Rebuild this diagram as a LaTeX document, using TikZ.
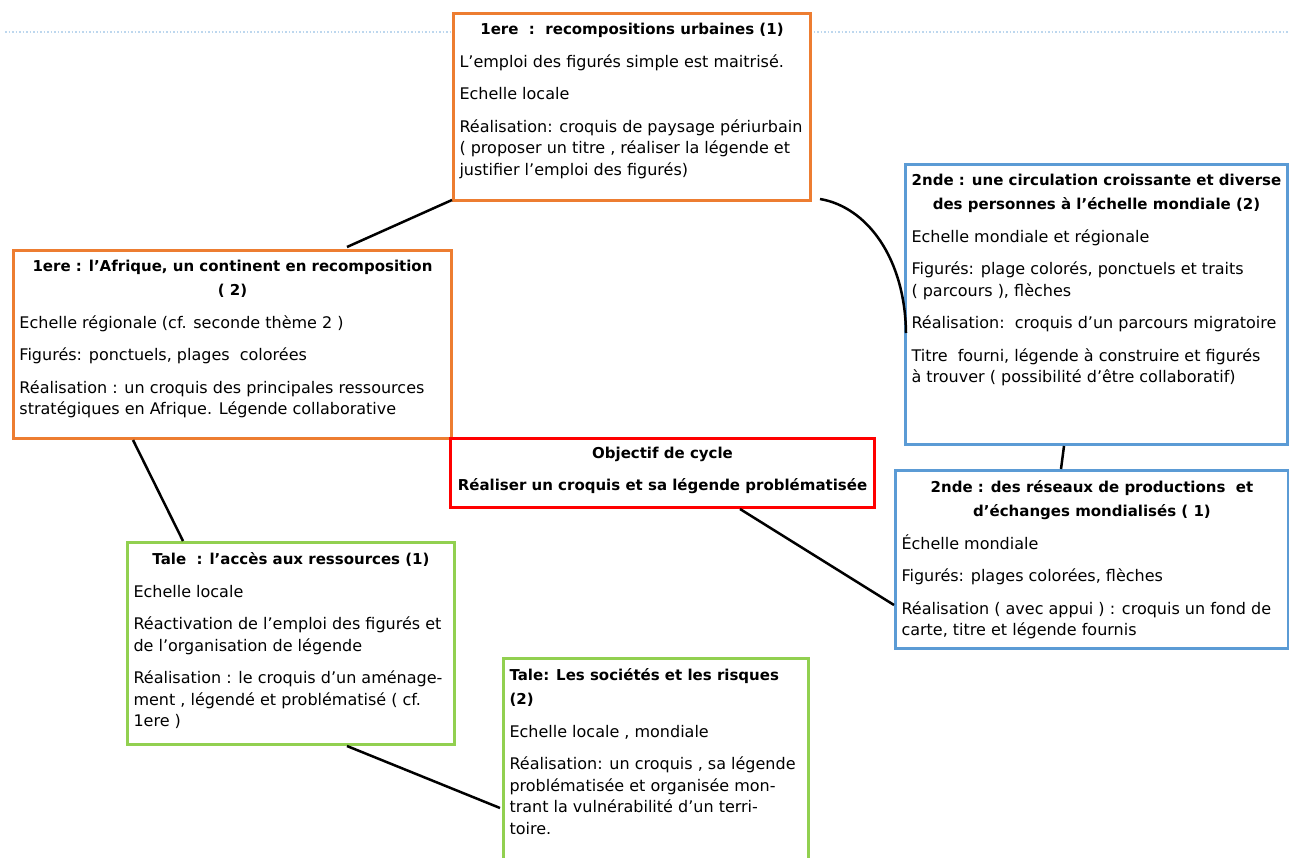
\documentclass[tikz,border=0pt]{standalone}
\usepackage{fontspec}
\setmainfont{DejaVu Sans}
\usetikzlibrary{calc}
\definecolor{orA}{HTML}{ED7D31}
\definecolor{blA}{HTML}{5B9BD5}
\definecolor{grA}{HTML}{92D050}
\definecolor{rdA}{HTML}{FF0000}
\definecolor{dotA}{HTML}{BDD7EE}
\newcommand\bxc[3]{\parbox[c][#2][t]{#1}{\raggedright\fontsize{16}{21.5}\selectfont\setlength{\parskip}{11pt}\vspace*{4pt}#3}}
\newcommand\ttl[1]{{\setlength{\parskip}{0pt}\centering\bfseries\fontsize{15}{24}\selectfont #1\par}}
\newcommand\ttlL[1]{{\setlength{\parskip}{0pt}\raggedright\bfseries\fontsize{15}{24}\selectfont #1\par}}
\tikzset{
  bx/.style={draw=#1, line width=3pt, fill=white, inner sep=6pt, anchor=north west},
  link/.style={draw=black, line width=2.5pt},
  dotline/.style={draw=dotA, line width=1.5pt, dotted}
}
\begin{document}
\begin{tikzpicture}[x=1pt,y=-1pt]
\useasboundingbox (0,0) rectangle (1289,858);
\coordinate (dl) at (5,32);
\coordinate (dr) at (1289,32);
\draw[dotline] (dl) -- (dr);

% boxes
\node[bx=orA] (A) at (452,12) {\bxc{345pt}{175pt}{%
\ttl{1ere\ \ :\ \ recompositions urbaines (1)}
L’emploi des figurés simple est maitrisé.\par
Echelle locale\par
Réalisation: croquis de paysage périurbain\\( proposer un titre , réaliser la légende et\\justifier l’emploi des figurés)}};

\node[bx=orA] (B) at (12,249) {\bxc{426pt}{176pt}{%
\ttl{1ere : l’Afrique, un continent en recomposition\\( 2)}
Echelle régionale (cf. seconde thème 2 )\par
Figurés: ponctuels, plages\ \ colorées\par
Réalisation : un croquis des principales ressources\\stratégiques en Afrique. Légende collaborative}};

\node[bx=blA] (C) at (904,163) {\bxc{370pt}{268pt}{%
\ttl{2nde : une circulation croissante et diverse\\des personnes à l’échelle mondiale (2)}
Echelle mondiale et régionale\par
Figurés: plage colorés, ponctuels et traits\\( parcours ), flèches\par
Réalisation:\ \ croquis d’un parcours migratoire\par
Titre\ \ fourni, légende à construire et figurés\\à trouver ( possibilité d’être collaboratif)}};

\node[bx=blA] (E) at (894,469) {\bxc{381pt}{166pt}{%
\ttl{2nde : des réseaux de productions\ \ et\\d’échanges mondialisés ( 1)}
Échelle mondiale\par
Figurés: plages colorées, flèches\par
Réalisation ( avec appui ) : croquis un fond de\\carte, titre et légende fournis}};

\node[bx=rdA] (D) at (449,437) {\parbox[c][57pt][t]{412pt}{\centering\bfseries\fontsize{15}{24}\selectfont
\vspace*{3pt}Objectif de cycle\par\vspace{8pt}
Réaliser un croquis et sa légende problématisée\par}};

\node[bx=grA] (F) at (126,541) {\bxc{315pt}{190pt}{%
\ttl{Tale\ \ : l’accès aux ressources (1)}
Echelle locale\par
Réactivation de l’emploi des figurés et\\de l’organisation de légende\par
Réalisation : le croquis d’un aménage-\\ment , légendé et problématisé ( cf.\\1ere )}};

\node[bx=grA] (G) at (502,657) {\bxc{293pt}{193pt}{%
\ttlL{Tale: Les sociétés et les risques\\(2)}
Echelle locale , mondiale\par
Réalisation: un croquis , sa légende\\problématisée et organisée mon-\\trant la vulnérabilité d’un terri-\\toire.}};

% connectors
\draw[link] ($(A.south west)+(0,-2)$) -- ($(B.north west)+(335,-2)$);
\draw[link] ($(A.south east)+(8,-3)$) .. controls ($(A.south east)+(55,5)$) and ($(C.north west)+(1,95)$) .. ($(C.north west)+(2,170)$);
\draw[link] ($(B.south west)+(121,0)$) -- ($(F.north west)+(57,0)$);
\draw[link] ($(C.south west)+(160,0)$) -- ($(E.north west)+(167,0)$);
\draw[link] ($(D.south west)+(291,0)$) -- ($(E.south west)+(0,-45)$);
\draw[link] ($(F.south west)+(221,0)$) -- ($(G.north west)+(-2,151)$);
\end{tikzpicture}
\end{document}
